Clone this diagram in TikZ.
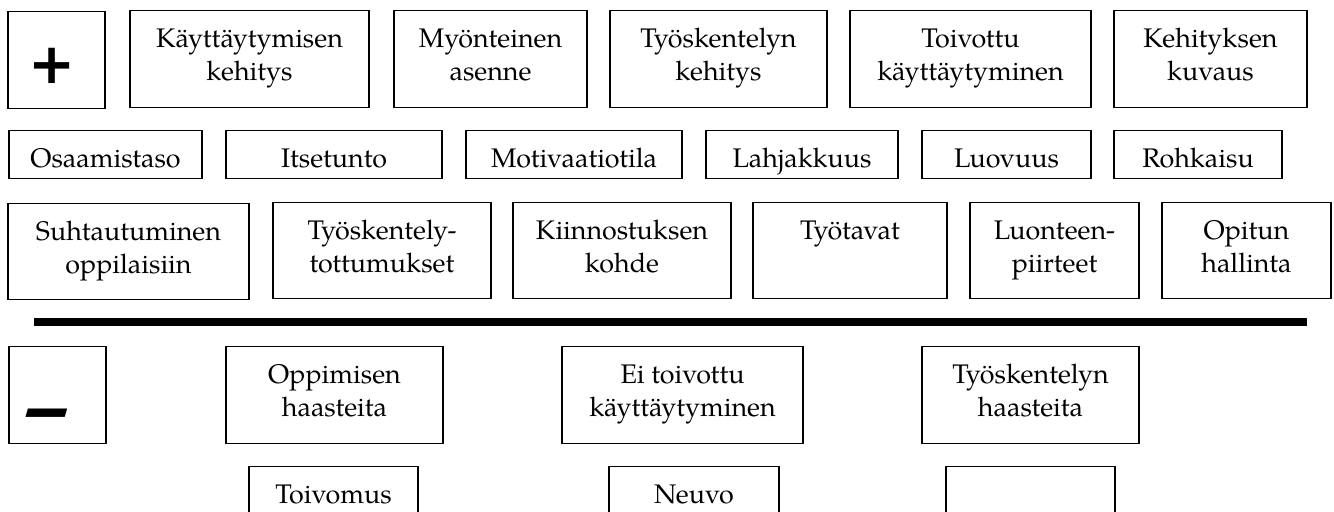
\documentclass[tikz,border=0pt]{standalone}
\usepackage{fontspec}
\setmainfont{TeX Gyre Pagella}
\newfontfamily\signfont{DejaVu Sans}

\begin{document}
\begin{tikzpicture}[
    every node/.style={font=\fontsize{15.3}{18.8}\selectfont},
    box/.style={draw,line width=0.75pt,anchor=north,align=center,inner xsep=0pt,inner ysep=0pt},
    twoline/.style={box,text height=1.40cm,text depth=0.54cm},
    oneline/.style={box,text height=0.74cm,text depth=1.20cm},
    flatbox/.style={box,text height=0.74cm,text depth=0.22cm},
    sign/.style={inner sep=0pt,font=\signfont\bfseries\fontsize{32}{32}\selectfont},
    divider/.style={line width=4.6pt},
]
\clip (0,0) rectangle (26.68,-10.22);
% Plus side, first row
\node[oneline,minimum width=1.94cm] (plusbox) at (1.13,-0.22) {};
\node[sign] (plus) at (1.04,-1.31) {+};
\node[twoline,minimum width=4.78cm] (kaytkeh) at (4.99,-0.20) {Käyttäytymisen\\kehitys};
\node[twoline,minimum width=3.86cm] (asenne) at (9.81,-0.20) {Myönteinen\\asenne};
\node[twoline,minimum width=4.34cm] (tyokeh) at (14.37,-0.20) {Työskentelyn\\kehitys};
\node[twoline,minimum width=4.82cm] (toivottu) at (19.41,-0.20) {Toivottu\\käyttäytyminen};
\node[twoline,minimum width=3.86cm] (kuvaus) at (24.21,-0.20) {Kehityksen\\kuvaus};
% Second row
\node[flatbox,minimum width=3.86cm] (osaaminen) at (2.11,-2.60) {Osaamistaso};
\node[flatbox,minimum width=4.32cm] (itsetunto) at (6.68,-2.60) {Itsetunto};
\node[flatbox,minimum width=4.32cm] (motivaatio) at (11.48,-2.60) {Motivaatiotila};
\node[flatbox,minimum width=3.84cm] (lahjakkuus) at (16.04,-2.60) {Lahjakkuus};
\node[flatbox,minimum width=3.38cm] (luovuus) at (20.13,-2.60) {Luovuus};
\node[flatbox,minimum width=3.36cm] (rohkaisu) at (23.96,-2.60) {Rohkaisu};
% Third row
\node[twoline,minimum width=4.82cm,text depth=0.52cm] (suhtautuminen) at (2.57,-4.06) {Suhtautuminen\\oppilaisiin};
\node[twoline,minimum width=4.36cm,text depth=0.52cm] (tottumukset) at (7.64,-4.04) {Työskentely-\\tottumukset};
\node[twoline,minimum width=4.36cm,text depth=0.52cm] (kiinnostus) at (12.44,-4.04) {Kiinnostuksen\\kohde};
\node[oneline,minimum width=3.88cm,text depth=1.18cm] (tyotavat) at (17.00,-4.04) {Työtavat};
\node[twoline,minimum width=3.38cm,text depth=0.52cm] (piirteet) at (21.09,-4.04) {Luonteen-\\piirteet};
\node[twoline,minimum width=3.38cm,text depth=0.52cm] (hallinta) at (24.93,-4.04) {Opitun\\hallinta};
% Divider
\draw[divider] (0.68,-6.44) -- (26.14,-6.44);
% Minus side
\node[oneline,minimum width=1.94cm] (minusbox) at (1.15,-6.92) {};
\node[sign,font=\signfont\bfseries\itshape\fontsize{38}{38}\selectfont] (minus) at (0.98,-8.40) {\scalebox{1.5}[1]{–}};
\node[twoline,minimum width=4.34cm] (oppiminen) at (6.69,-6.92) {Oppimisen\\haasteita};
\node[twoline,minimum width=4.82cm] (eitoivottu) at (13.65,-6.92) {Ei toivottu\\käyttäytyminen};
\node[twoline,minimum width=4.34cm] (tyohaaste) at (20.61,-6.92) {Työskentelyn\\haasteita};
% Last row
\node[oneline,minimum width=3.38cm] (toivomus) at (6.67,-9.32) {Toivomus};
\node[oneline,minimum width=3.40cm] (neuvo) at (13.88,-9.32) {Neuvo};
\node[oneline,minimum width=3.38cm] (tyhja) at (20.61,-9.32) {};
\end{tikzpicture}
\end{document}
